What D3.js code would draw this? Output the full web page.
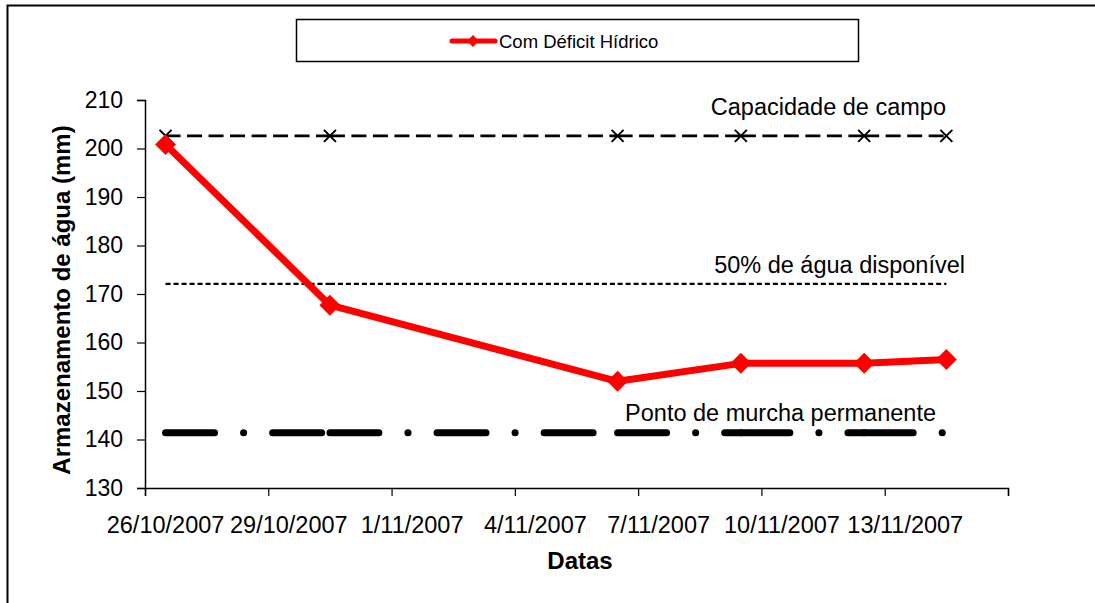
<!DOCTYPE html>
<html>
<head>
<meta charset="utf-8">
<script src="https://cdn.jsdelivr.net/npm/d3@7"></script>
<style>
  body { margin: 0; background: #fff; }
  text { font-family: Arial, "Liberation Sans", sans-serif; fill: #000; }
</style>
</head>
<body>
<div id="graph-container"></div>
<script>
// dates of the measurements
const datas = ["2007-10-26", "2007-10-30", "2007-11-06", "2007-11-09", "2007-11-12", "2007-11-14"];
// water storage with deficit (mm)
const comDeficit = [200.8, 167.7, 152.0, 155.7, 155.7, 156.5];
// reference levels
const capacidadeCampo = [202.6, 202.6, 202.6, 202.6, 202.6, 202.6];
const aguaDisponivel50 = [172.1, 172.1, 172.1, 172.1, 172.1, 172.1];
const pontoMurcha = [141.4, 141.4, 141.4, 141.4, 141.4, 141.4];
// axis ticks
const yTicks = [130, 140, 150, 160, 170, 180, 190, 200, 210];
const xTickLabels = ["26/10/2007", "29/10/2007", "1/11/2007", "4/11/2007", "7/11/2007", "10/11/2007", "13/11/2007", ""];

const width = 1095;
const height = 603;
const margin = { left: 145, right: 87, top: 100, bottom: 115 };

const svg = d3.select("#graph-container")
    .append("svg")
    .attr("width", width)
    .attr("height", height)
    .attr("viewBox", `0 0 ${width} ${height}`);

// outer chart border
svg.append("rect")
    .attr("x", 7.5).attr("y", 5.5)
    .attr("width", width + 20).attr("height", height + 20)
    .attr("fill", "none").attr("stroke", "#000").attr("stroke-width", 2);

const parse = d3.utcParse("%Y-%m-%d");
const dayMs = 24 * 3600 * 1000;
const start = parse("2007-10-26");
const end = parse("2007-11-16");

const x = d3.scaleUtc()
    .domain([start, end])
    .range([margin.left, width - margin.right]);

const y = d3.scaleLinear()
    .domain([130, 210])
    .range([height - margin.bottom, margin.top]);

// points sit in the middle of their day
const xd = d => x(new Date(parse(d).getTime() + dayMs / 2));

const xTicks = d3.range(0, 22, 3).map(k => new Date(start.getTime() + k * dayMs));

// y axis
const yAxis = svg.append("g")
    .attr("transform", `translate(${margin.left},0)`)
    .call(d3.axisLeft(y).tickValues(yTicks).tickSize(8).tickPadding(14));
yAxis.select(".domain").attr("stroke-width", 1.5);
yAxis.selectAll("line").attr("stroke-width", 1.2);
yAxis.selectAll("text").style("font-size", "23px").attr("fill", "#000");

// x axis
const xAxis = svg.append("g")
    .attr("transform", `translate(0,${height - margin.bottom})`)
    .call(d3.axisBottom(x).tickValues(xTicks).tickSize(8).tickFormat(""));
xAxis.select(".domain").attr("stroke-width", 1.5);
xAxis.selectAll("line").attr("stroke-width", 1.2);

svg.append("g").selectAll("text")
    .data(xTicks)
    .enter()
    .append("text")
    .attr("x", d => x(new Date(d.getTime() + dayMs / 2)))
    .attr("y", height - margin.bottom + 45)
    .attr("text-anchor", "middle")
    .style("font-size", "23.5px")
    .text((d, i) => xTickLabels[i]);

// axis titles
svg.append("text")
    .attr("x", 580).attr("y", 569)
    .attr("text-anchor", "middle")
    .style("font-size", "24px").style("font-weight", "bold")
    .text("Datas");

svg.append("text")
    .attr("transform", "rotate(-90)")
    .attr("x", -300).attr("y", 70)
    .attr("text-anchor", "middle")
    .style("font-size", "24px").style("font-weight", "bold")
    .text("Armazenamento de água (mm)");

// draw a reference line segment by segment (dash pattern restarts on each segment)
function segmented(values, opts) {
    const g = svg.append("g");
    for (let i = 0; i < datas.length - 1; i++) {
        g.append("line")
            .attr("x1", xd(datas[i])).attr("y1", y(values[i]))
            .attr("x2", xd(datas[i + 1])).attr("y2", y(values[i + 1]))
            .attr("stroke", "#000")
            .attr("stroke-width", opts.w)
            .attr("stroke-dasharray", opts.dash)
            .attr("stroke-linecap", opts.cap || "butt");
    }
    return g;
}

// ponto de murcha permanente: heavy dash-dot
segmented(pontoMurcha, { w: 7, dash: "49 29 0.1 29", cap: "round" });

// 50% de agua disponivel: short dashes
segmented(aguaDisponivel50, { w: 2.2, dash: "5 3" });

// capacidade de campo: dashes with x markers
segmented(capacidadeCampo, { w: 2.8, dash: "15 6.5" });
svg.append("g").selectAll("path")
    .data(datas)
    .enter()
    .append("path")
    .attr("d", (d, i) => {
        const cx = xd(d), cy = y(capacidadeCampo[i]), s = 6;
        return `M${cx - s},${cy - s}L${cx + s},${cy + s}M${cx - s},${cy + s}L${cx + s},${cy - s}`;
    })
    .attr("stroke", "#000").attr("stroke-width", 2).attr("fill", "none");

// com deficit hidrico
const line = d3.line()
    .x((d, i) => xd(datas[i]))
    .y(d => y(d));

svg.append("path")
    .datum(comDeficit)
    .attr("d", line)
    .attr("fill", "none")
    .attr("stroke", "#ff0000")
    .attr("stroke-width", 7)
    .attr("stroke-linejoin", "round");

const diamond = d3.symbol().type(d3.symbolSquare).size(220);
svg.append("g").selectAll("path")
    .data(comDeficit)
    .enter()
    .append("path")
    .attr("d", diamond)
    .attr("transform", (d, i) => `translate(${xd(datas[i])},${y(d)}) rotate(45)`)
    .attr("fill", "#ff0000");

// labels of the reference lines
svg.append("text").attr("x", 946).attr("y", 115).attr("text-anchor", "end")
    .style("font-size", "23.5px").text("Capacidade de campo");
svg.append("text").attr("x", 965).attr("y", 273).attr("text-anchor", "end")
    .style("font-size", "23.5px").text("50% de água disponível");
svg.append("text").attr("x", 936).attr("y", 421).attr("text-anchor", "end")
    .style("font-size", "23.5px").text("Ponto de murcha permanente");

// legend
const legend = svg.append("g");
legend.append("rect")
    .attr("x", 296.5).attr("y", 19.5).attr("width", 562).attr("height", 42)
    .attr("fill", "#fff").attr("stroke", "#000").attr("stroke-width", 1.5);
legend.append("line")
    .attr("x1", 452).attr("x2", 495).attr("y1", 41).attr("y2", 41)
    .attr("stroke", "#ff0000").attr("stroke-width", 5).attr("stroke-linecap", "round");
legend.append("path")
    .attr("d", d3.symbol().type(d3.symbolSquare).size(70))
    .attr("transform", "translate(473,41) rotate(45)")
    .attr("fill", "#ff0000");
legend.append("text")
    .attr("x", 499).attr("y", 48)
    .style("font-size", "18.5px")
    .text("Com Déficit Hídrico");
</script>
</body>
</html>
